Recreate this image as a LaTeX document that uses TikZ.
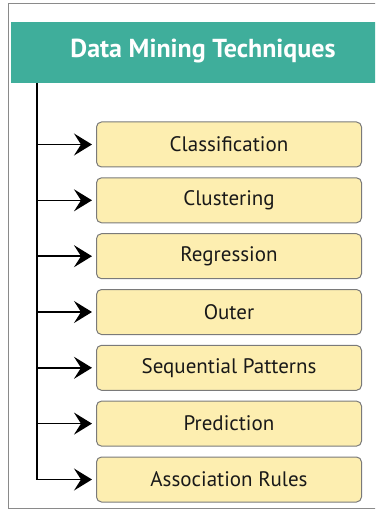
\documentclass[tikz,border=0pt]{standalone}
\usepackage{fontspec}
\setmainfont{PT Sans}
\usetikzlibrary{arrows.meta}
\definecolor{teal}{HTML}{3FAE9B}
\definecolor{boxfill}{HTML}{FDEEB0}
\definecolor{boxline}{HTML}{7A7A7A}
\definecolor{frameline}{HTML}{8A8A8A}
\tikzset{
  techbox/.style={draw=boxline, line width=1pt, fill=boxfill, rounded corners=5pt,
    minimum width=265pt, minimum height=45pt, inner sep=0pt,
    font=\fontsize{21}{24}\selectfont, text=black!90},
  conn/.style={line width=1.5pt, arrows={-Stealth[length=18pt,width=22pt,inset=7pt]}},
}
\begin{document}
\begin{tikzpicture}[x=1pt,y=-1pt]
\useasboundingbox (0,0) rectangle (375,510);
\clip (0,0) rectangle (375,510);
\draw[frameline, line width=1pt] (8,4) rectangle (390,508);
\node[fill=teal, minimum width=380pt, minimum height=61pt, inner sep=0pt, anchor=north west] (title) at (11,22) {};
\node[text=white, font=\bfseries\fontsize{26}{28}\selectfont] (titletext) at (203,51) {Data Mining Techniques};
\coordinate (top) at (37,83);
\node[techbox, anchor=west] (b1) at (96,144.5) {Classification};
\node[techbox, anchor=west] (b2) at (96,200.3) {Clustering};
\node[techbox, anchor=west] (b3) at (96,256.2) {Regression};
\node[techbox, anchor=west] (b4) at (96,312) {Outer};
\node[techbox, anchor=west] (b5) at (96,367.8) {Sequential Patterns};
\node[techbox, anchor=west] (b6) at (96,423.6) {Prediction};
\node[techbox, anchor=west] (b7) at (96,479.5) {Association Rules};
\coordinate (bot) at (37,479.5);
\draw[line width=1.5pt] (top) -- (bot);
\foreach \i in {1,...,7} {
  \draw[conn] (top |- b\i.west) -- ([xshift=-4pt]b\i.west);
}
\end{tikzpicture}
\end{document}
